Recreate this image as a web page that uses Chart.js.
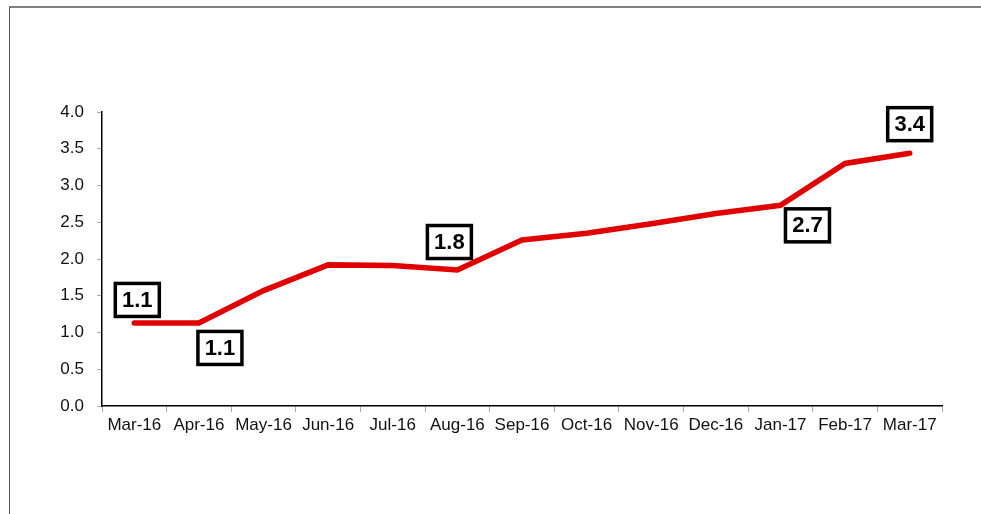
<!DOCTYPE html>
<html>
<head>
<meta charset="utf-8">
<script src="https://cdn.jsdelivr.net/npm/chart.js@4.4.1/dist/chart.umd.min.js"></script>
<style>
  html, body { margin: 0; padding: 0; background: #fff; }
  #wrap { position: relative; width: 981px; height: 514px; overflow: hidden; }
  #frame { position: absolute; left: 9px; top: 6px; width: 1000px; height: 600px;
           border-top: 2px solid #808080; border-left: 1px solid #555; box-sizing: border-box; }
  canvas { position: absolute; left: 0; top: 0; }
</style>
</head>
<body>
<div id="wrap">
  <div id="frame"></div>
  <canvas id="c" width="981" height="514"></canvas>
</div>
<script>
const categories = ["Mar-16","Apr-16","May-16","Jun-16","Jul-16","Aug-16","Sep-16","Oct-16","Nov-16","Dec-16","Jan-17","Feb-17","Mar-17"];
const values = [1.13, 1.13, 1.57, 1.92, 1.91, 1.85, 2.26, 2.35, 2.48, 2.62, 2.73, 3.30, 3.44];
const yTicks = [0, 0.5, 1, 1.5, 2, 2.5, 3, 3.5, 4];
// data labels shown on selected points: index and text
const labelIndex = [0, 1, 5, 10, 12];
const labelText = ["1.1", "1.1", "1.8", "2.7", "3.4"];

// label box offsets (style) relative to point, in pixels
const labelOffsets = [[3, -23], [21, 25], [-8, -28], [27, 20], [0, -29]];

const boxLabels = {
  id: 'boxLabels',
  afterDatasetsDraw(chart) {
    const ctx = chart.ctx;
    const xs = chart.scales.x, ys = chart.scales.y;
    ctx.save();
    ctx.font = 'bold 22px "Liberation Sans", Arial, sans-serif';
    ctx.textAlign = 'center';
    ctx.textBaseline = 'middle';
    labelIndex.forEach((idx, k) => {
      const px = xs.getPixelForValue(idx) + labelOffsets[k][0];
      const py = ys.getPixelForValue(values[idx]) + labelOffsets[k][1];
      const w = 44, h = 33;
      ctx.fillStyle = '#fff';
      ctx.fillRect(px - w/2, py - h/2, w, h);
      ctx.lineWidth = 3.5;
      ctx.strokeStyle = '#000';
      ctx.strokeRect(px - w/2, py - h/2, w, h);
      ctx.fillStyle = '#000';
      ctx.fillText(labelText[k], px, py + 1);
    });
    ctx.restore();
  }
};

new Chart(document.getElementById('c'), {
  type: 'line',
  data: {
    labels: categories,
    datasets: [{
      data: values,
      borderColor: '#e00000',
      borderWidth: 5.5,
      borderCapStyle: 'round',
      borderJoinStyle: 'miter',
      pointRadius: 0,
      tension: 0,
      fill: false
    }]
  },
  options: {
    responsive: false,
    animation: false,
    devicePixelRatio: 1,
    layout: { padding: { left: 0, top: 112, right: 39, bottom: 0 } },
    plugins: { legend: { display: false }, tooltip: { enabled: false } },
    scales: {
      x: {
        offset: true,
        grid: { offset: true, drawOnChartArea: false, drawTicks: true, tickLength: 6, color: '#aaaaaa' },
        border: { color: '#000', width: 1.5 },
        ticks: { color: '#111', font: { family: '"Liberation Sans", Arial, sans-serif', size: 17 }, padding: 3, maxRotation: 0, autoSkip: false },
        afterFit(s) { s.height = 108; }
      },
      y: {
        min: 0, max: 4,
        afterBuildTicks(s) { s.ticks = yTicks.map(v => ({ value: v })); },
        grid: { drawOnChartArea: false, drawTicks: true, tickLength: 5, color: '#aaaaaa' },
        border: { color: '#000', width: 1.5 },
        ticks: { color: '#111', font: { family: '"Liberation Sans", Arial, sans-serif', size: 17 }, padding: 13,
                 callback: v => Number(v).toFixed(1) },
        afterFit(s) { s.width = 102; }
      }
    }
  },
  plugins: [boxLabels]
});
</script>
</body>
</html>
